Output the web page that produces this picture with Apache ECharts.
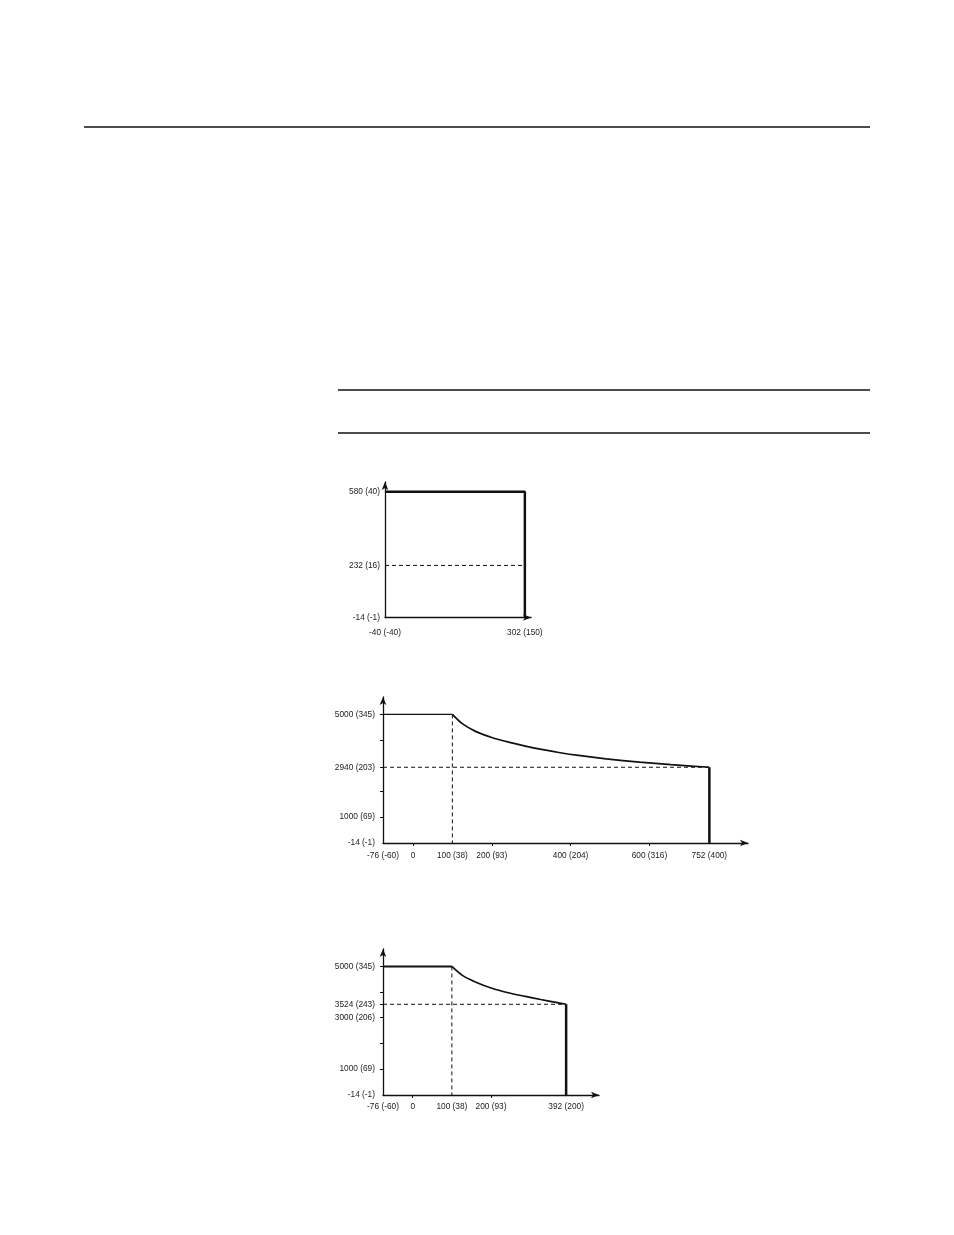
<!DOCTYPE html>
<html>
<head>
<meta charset="utf-8">
<script src="https://cdn.jsdelivr.net/npm/echarts@6/dist/echarts.min.js"></script>
<style>
	html, body { margin: 0; padding: 0; background: #fff; }
	.chart { width: 954px; height: 1235px; }
</style>
</head>
<body>
<div class="chart"></div>
<script>
// 图1 数据: -40..302 °F, 580 psi 框
const xTicks1 = [-40, 302];
const xLabels1 = ['-40 (-40)', '302 (150)'];
const yTicks1 = [-14, 232, 580];
const yLabels1 = ['-14 (-1)', '232 (16)', '580 (40)'];
const box1X = [-40, 302, 302];
const box1Y = [580, 580, -14];
const dash1Y = 232;

// 图2 数据
const xTicks2 = [-76, 0, 100, 200, 400, 600, 752];
const xLabels2 = ['-76 (-60)', '0', '100 (38)', '200 (93)', '400 (204)', '600 (316)', '752 (400)'];
const yTicks2 = [-14, 1000, 2940, 5000];
const yLabels2 = ['-14 (-1)', '1000 (69)', '2940 (203)', '5000 (345)'];
const yMinor2 = [1000, 2000, 2940, 4000, 5000];
const curve2X = [100, 125, 160, 200, 245, 285, 330, 370, 420, 490, 575, 655, 752];
const curve2Y = [5000, 4640, 4330, 4100, 3910, 3765, 3625, 3515, 3400, 3270, 3140, 3040, 2940];

// 图3 数据
const xTicks3 = [-76, 0, 100, 200, 392];
const xLabels3 = ['-76 (-60)', '0', '100 (38)', '200 (93)', '392 (200)'];
const yTicks3 = [-14, 1000, 3000, 3524, 5000];
const yLabels3 = ['-14 (-1)', '1000 (69)', '3000 (206)', '3524 (243)', '5000 (345)'];
const yMinor3 = [1000, 2000, 3000, 3524, 4000, 5000];
const curve3X = [100, 127, 160, 202, 244, 285, 327, 369, 392];
const curve3Y = [5000, 4650, 4395, 4150, 3975, 3840, 3710, 3590, 3524];

const textColor = '#222';
const fontFamily = "'Liberation Sans', Arial, sans-serif";

function pairs(xs, ys) {
	return xs.map(function (x, i) { return [x, ys[i]]; });
}
function pick(ticks, labels) {
	return function (v) {
		const i = ticks.indexOf(v);
		return i < 0 ? '' : labels[i];
	};
}

// 坐标轴公共样式
function axisBase(extra) {
	return Object.assign({
		type: 'value',
		splitLine: { show: false },
		axisLine: {
			show: true,
			onZero: false, // 轴线贴着 grid 边
			symbol: ['none', 'arrow'],
			symbolSize: [5, 8],
			lineStyle: { color: '#111', width: 1.3 }
		},
		axisTick: { show: false },
		axisLabel: { color: textColor, fontSize: 8.3, fontFamily: fontFamily }
	}, extra);
}

(function () {
	let myChart = echarts.init(document.querySelector('.chart'));
	const solid = function (w) { return { color: '#111', width: w }; };
	const dashed = { color: '#111', width: 1, type: [4, 3] };

	const option = {
		animation: false,
		// 页面上的分隔线
		graphic: [
			{ type: 'line', shape: { x1: 84, y1: 127, x2: 870, y2: 127 }, style: { stroke: '#111', lineWidth: 1.3 } },
			{ type: 'line', shape: { x1: 338, y1: 390, x2: 870, y2: 390 }, style: { stroke: '#111', lineWidth: 1.3 } },
			{ type: 'line', shape: { x1: 338, y1: 433, x2: 870, y2: 433 }, style: { stroke: '#111', lineWidth: 1.3 } }
		],
		grid: [
			{ left: 385, top: 482, width: 146, height: 135.5 },
			{ left: 383, top: 697, width: 365, height: 146 },
			{ left: 383, top: 949, width: 216, height: 146 }
		],
		xAxis: [
			axisBase({
				gridIndex: 0, min: -40, max: 317,
				axisLabel: { color: textColor, fontSize: 8.3, fontFamily: fontFamily, margin: 11, customValues: xTicks1, formatter: pick(xTicks1, xLabels1) }
			}),
			axisBase({
				gridIndex: 1, min: -76, max: 850,
				axisTick: { show: true, length: 3, customValues: [0, 200, 400, 600], lineStyle: { color: '#111' } },
				axisLabel: { color: textColor, fontSize: 8.3, fontFamily: fontFamily, margin: 9, customValues: xTicks2, formatter: pick(xTicks2, xLabels2) }
			}),
			axisBase({
				gridIndex: 2, min: -76, max: 476,
				axisTick: { show: true, length: 3, customValues: [0, 200], lineStyle: { color: '#111' } },
				axisLabel: { color: textColor, fontSize: 8.3, fontFamily: fontFamily, margin: 8, customValues: xTicks3, formatter: pick(xTicks3, xLabels3) }
			})
		],
		yAxis: [
			axisBase({
				gridIndex: 0, min: -14, max: 626,
				axisLabel: { color: textColor, fontSize: 8.3, fontFamily: fontFamily, margin: 5, customValues: yTicks1, formatter: pick(yTicks1, yLabels1) }
			}),
			axisBase({
				gridIndex: 1, min: -14, max: 5680,
				axisTick: { show: true, length: 3, customValues: yMinor2, lineStyle: { color: '#111' } },
				axisLabel: { color: textColor, fontSize: 8.3, fontFamily: fontFamily, margin: 8, customValues: yTicks2, formatter: pick(yTicks2, yLabels2) }
			}),
			axisBase({
				gridIndex: 2, min: -14, max: 5680,
				axisTick: { show: true, length: 3, customValues: yMinor3, lineStyle: { color: '#111' } },
				axisLabel: { color: textColor, fontSize: 8.3, fontFamily: fontFamily, margin: 8, customValues: yTicks3, formatter: pick(yTicks3, yLabels3) }
			})
		],
		series: [
			// 图1: 矩形框 + 虚线
			{ type: 'line', xAxisIndex: 0, yAxisIndex: 0, symbol: 'none', lineStyle: solid(2.5), data: pairs(box1X, box1Y) },
			{ type: 'line', xAxisIndex: 0, yAxisIndex: 0, symbol: 'none', lineStyle: dashed, data: [[box1X[0], dash1Y], [box1X[1], dash1Y]] },

			// 图2
			{ type: 'line', xAxisIndex: 1, yAxisIndex: 1, symbol: 'none', lineStyle: solid(1.2), data: [[xTicks2[0], curve2Y[0]], [curve2X[0], curve2Y[0]]] },
			{ type: 'line', xAxisIndex: 1, yAxisIndex: 1, symbol: 'none', smooth: 0.3, lineStyle: solid(1.7), data: pairs(curve2X, curve2Y) },
			{ type: 'line', xAxisIndex: 1, yAxisIndex: 1, symbol: 'none', lineStyle: solid(2.5), data: [[752, curve2Y[curve2Y.length - 1]], [752, -14]] },
			{ type: 'line', xAxisIndex: 1, yAxisIndex: 1, symbol: 'none', lineStyle: dashed, data: [[100, 5000], [100, -14]] },
			{ type: 'line', xAxisIndex: 1, yAxisIndex: 1, symbol: 'none', lineStyle: dashed, data: [[-76, 2940], [752, 2940]] },

			// 图3
			{ type: 'line', xAxisIndex: 2, yAxisIndex: 2, symbol: 'none', lineStyle: solid(2), data: [[xTicks3[0], curve3Y[0]], [curve3X[0], curve3Y[0]]] },
			{ type: 'line', xAxisIndex: 2, yAxisIndex: 2, symbol: 'none', smooth: 0.3, lineStyle: solid(1.7), data: pairs(curve3X, curve3Y) },
			{ type: 'line', xAxisIndex: 2, yAxisIndex: 2, symbol: 'none', lineStyle: solid(2.5), data: [[392, curve3Y[curve3Y.length - 1]], [392, -14]] },
			{ type: 'line', xAxisIndex: 2, yAxisIndex: 2, symbol: 'none', lineStyle: dashed, data: [[100, 5000], [100, -14]] },
			{ type: 'line', xAxisIndex: 2, yAxisIndex: 2, symbol: 'none', lineStyle: dashed, data: [[-76, 3524], [392, 3524]] }
		]
	};
	myChart.setOption(option);
	window.addEventListener('resize', function () {
		myChart.resize();
	});
})();
</script>
</body>
</html>
